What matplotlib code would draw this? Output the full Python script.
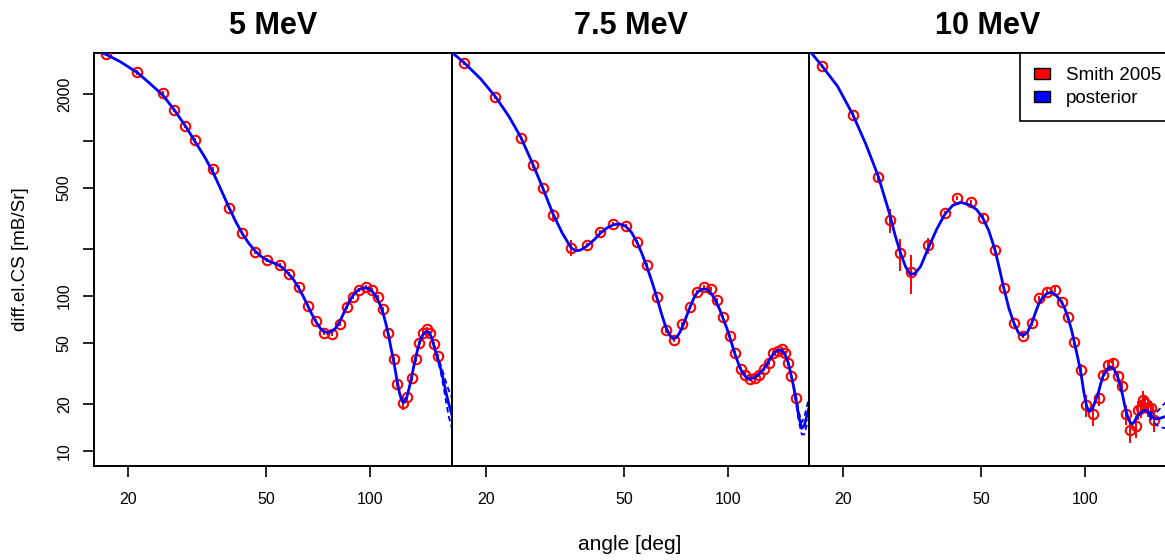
import matplotlib
matplotlib.use("Agg")
import matplotlib.pyplot as plt
from matplotlib.patches import Patch
from matplotlib.ticker import NullLocator

plt.rcParams['font.family'] = ['Liberation Sans', 'DejaVu Sans']

# ---------------- measured differential elastic cross sections (Smith 2005) ----------------
titles = ["5 MeV", "7.5 MeV", "10 MeV"]

ang_5 = [17.3, 21.3, 25.2, 27.2, 29.3, 31.3, 35.3, 39.1, 42.8, 46.6, 50.5, 54.8, 58.2, 62.2,
         66.2, 70.0, 73.5, 77.5, 81.7, 85.6, 89.1, 92.9, 97.2, 101.1, 105.2, 109.0, 112.9,
         117.3, 119.4, 124.3, 127.9, 131.9, 135.5, 138.5, 142.5, 145.8, 149.0, 153.4, 157.5]
cs_5 = [3640, 2770, 2030, 1580, 1250, 1010, 660, 371, 256, 193, 171, 158, 139, 114,
        86, 69, 58, 57, 66, 85, 98, 110, 114, 109, 99, 82, 58,
        39, 27, 20.3, 22.2, 29.4, 39, 50, 57.5, 61, 58, 49, 41]
err_5 = [110, 85, 60, 50, 40, 30, 20, 12, 8, 6, 5, 5, 4, 3.5,
         2.6, 2.1, 1.8, 1.7, 2, 2.6, 3, 3.3, 3.4, 3.3, 3, 2.5, 1.8,
         1.3, 1, 2.0, 0.9, 1.0, 1.3, 1.6, 1.8, 1.9, 1.8, 1.5, 1.3]

ang_75 = [17.3, 21.3, 25.2, 27.3, 29.2, 31.2, 35.2, 39.1, 42.7, 46.6, 50.6, 54.6, 58.2, 62.2,
          66.1, 70.0, 73.8, 77.7, 81.4, 85.4, 89.1, 92.8, 96.9, 101.5, 104.8, 109.0, 111.9,
          115.8, 119.7, 122.9, 127.0, 131.6, 134.6, 139.2, 142.9, 146.1, 149.3, 152.1, 157.2]
cs_75 = [3200, 1930, 1050, 697, 495, 332, 205, 213, 258, 293, 282, 223, 158, 99,
         60, 52, 66, 85, 106, 114, 111, 94, 73.5, 55, 42.7, 33.7, 30.9,
         29.1, 29.7, 31.1, 33.7, 37.1, 42.7, 44, 45.3, 42.7, 37.1, 30.5, 22]
err_75 = [100, 60, 35, 22, 16, 30, 25, 7, 8, 9, 9, 7, 5, 3.2,
          2, 1.7, 2, 2.7, 3.4, 3.6, 3.5, 3, 2.3, 1.8, 1.4, 1.1, 1,
          0.9, 0.9, 1, 1.1, 1.2, 1.4, 1.4, 1.4, 1.4, 1.2, 1, 0.9]

ang_10 = [17.4, 21.35, 25.3, 27.25, 29.3, 31.5, 35.3, 39.3, 42.8, 46.7, 50.7, 54.9, 58.3, 62.3,
          66.1, 70.2, 73.5, 77.5, 81.8, 85.9, 89.4, 93.2, 97.5, 100.8, 105.3, 109.4, 112.5,
          116.9, 120.3, 124.4, 128.1, 131.5, 135.3, 139.9, 142.7, 145.3, 147.5, 149.5, 152.2,
          155.3, 158.0]
cs_10 = [3050, 1480, 588, 309, 190, 143.5, 212, 343, 429, 402, 320, 199, 112.6, 66.7,
         55.4, 66.7, 96.7, 106.6, 109.8, 91.1, 72.9, 50.5, 33.3, 19.8, 17.3, 22, 30.9,
         35.9, 37.1, 30.5, 26.3, 17.3, 13.7, 14.4, 18.4, 18.9, 21.3, 20.4, 19,
         18.9, 15.85]
err_10 = [110, 55, 45, 55, 45, 40, 25, 12, 14, 13, 11, 7, 4, 2.5,
          2.2, 2.5, 3.5, 4, 4, 3.4, 2.8, 2.2, 3, 3.2, 2.8, 2.5, 1.8,
          2, 2, 1.8, 1.5, 2.5, 2.5, 2.3, 2.5, 2.5, 3, 2.5, 2.5,
          2, 2.5]

# ---------------- posterior mean curves ----------------
post_ang_5 = [15.9, 17.3, 19.0, 21.3, 23.0, 25.2, 27.2, 29.3, 31.3, 33.3, 35.3, 37.2, 39.1, 41.0,
              42.8, 44.7, 46.6, 48.5, 50.5, 52.5, 54.8, 56.5, 58.2, 60.2, 62.2, 64.2, 66.2,
              68.0, 70.0, 71.8, 73.5, 75.5, 77.5, 79.5, 81.7, 83.6, 85.6, 87.3, 89.1, 91.0,
              92.9, 95.0, 97.2, 99.1, 101.1, 103.1, 105.2, 107.1, 109.0, 111.0, 112.9, 115.0,
              117.3, 119.5, 121.5, 123.5, 124.7, 125.5, 127.9, 130.0, 131.9, 133.7, 135.5,
              137.5, 139.7, 142.0, 144.4, 146.5, 148.5, 150.5, 152.7, 155.0, 157.2, 160.0,
              163.0, 166.0, 169.0, 172.5]
post_cs_5 = [3900, 3620, 3250, 2760, 2380, 1980, 1590, 1250, 985, 790, 620, 480, 375, 300,
             252, 218, 195, 180, 170, 164, 157, 149, 139, 127, 113, 99, 86,
             76, 67.5, 62, 59, 58, 59, 62, 68, 76, 85, 93, 100, 106,
             110, 112.5, 113, 111.5, 108, 102.5, 95, 87, 78, 67, 57, 46,
             37, 29, 24, 21.2, 20.5, 20.6, 22.5, 26, 30, 35, 40,
             46, 51.5, 56, 58.5, 59, 57.5, 54, 48.5, 43, 39, 34,
             28.5, 23.5, 20, 17]

post_ang_75 = [15.9, 17.3, 19.3, 21.3, 23.3, 25.2, 27.3, 29.2, 31.2, 33.2, 35.2, 36.3, 37.5,
               39.1, 41.0, 42.7, 44.6, 46.6, 48.5, 50.6, 52.6, 54.6, 56.4, 58.2, 60.2, 62.2,
               64.1, 66.1, 68.0, 69.5, 71.0, 72.5, 73.8, 75.7, 77.7, 79.5, 81.4, 83.4, 85.4,
               87.2, 89.1, 90.9, 92.8, 94.8, 96.9, 99.2, 101.5, 103.2, 104.8, 107.0, 109.0,
               111.9, 114.0, 115.8, 119.7, 122.9, 127.0, 131.6, 134.6, 137.0, 139.2, 141.0,
               142.9, 146.1, 149.3, 152.1, 154.7, 157.2, 160.0, 163.3, 166.0, 169.0, 172.5]
post_cs_75 = [3750, 3200, 2520, 1930, 1440, 1060, 710, 495, 340, 255, 205, 196, 198,
              210, 230, 253, 274, 288, 292, 282, 258, 222, 188, 156, 125, 99,
              78, 63, 55.5, 53, 54, 58, 63, 73, 85, 96, 105, 110, 111,
              110, 105, 98, 90, 81, 71, 62, 53, 47, 42, 37, 33.3,
              30.5, 29.5, 29.2, 29.8, 31.3, 34, 38.5, 41.8, 43.5, 44.5, 44.8,
              44.5, 42, 37, 31, 26, 21.5, 16.8, 14, 14.5, 17, 20]

post_ang_10 = [15.9, 17.4, 19.3, 21.35, 23.3, 25.3, 27.3, 28.3, 29.3, 30.3, 31.3, 32.3, 33.5,
               35.3, 37.3, 39.3, 41.5, 43.9, 46.7, 48.7, 50.7, 52.7, 54.9, 56.6, 58.3, 60.3,
               62.3, 64.2, 66.1, 68.1, 70.2, 71.9, 73.5, 75.5, 77.5, 79.0, 80.7, 82.5, 84.2,
               85.9, 87.6, 89.4, 91.3, 93.2, 95.3, 97.5, 99.2, 100.8, 102.3, 103.8, 105.3,
               107.3, 109.4, 110.9, 112.5, 114.6, 116.9, 119.0, 121.5, 124.4, 126.0, 128.1,
               130.0, 131.5, 133.5, 135.3, 136.8, 138.5, 140.0, 142.5, 145.0, 147.5, 149.2,
               151.0, 153.0, 155.5, 158.0, 161.0, 164.0, 168.0, 172.5]
post_cs_10 = [3900, 3050, 2250, 1480, 950, 590, 335, 245, 190, 155, 138, 140, 155,
              205, 270, 335, 385, 402, 385, 360, 318, 265, 200, 150, 112, 83,
              67, 58, 55.5, 58, 67, 78, 89, 98, 103.5, 105, 105, 101, 96,
              90, 82, 72, 61, 50, 40, 31, 24, 20, 18, 18.2, 19,
              21.2, 24, 27, 30, 32.5, 34.3, 34.8, 33.5, 29.8, 27, 23.5,
              20, 18, 16, 15.2, 15, 15.3, 16, 17, 17.7, 18.2, 18.3,
              18.1, 17.5, 16.8, 16.3, 16.1, 16.2, 16.5, 16.8]

# ---------------- posterior uncertainty band beyond the data ----------------
band_ang_5 = [152.7, 157.2, 160.0, 163.0, 166.0, 169.0, 172.5]
band_hi_5 = [49, 40, 36, 31.5, 27.5, 24.5, 22]
band_lo_5 = [48, 38, 32.5, 26, 20.5, 16.5, 14]

band_ang_75 = [154.7, 157.2, 160.0, 163.3, 166.0, 169.0, 172.5]
band_hi_75 = [26.5, 22.5, 18, 15.3, 16.5, 19.5, 23.5]
band_lo_75 = [25.5, 20.5, 15.6, 12.8, 12.8, 14.8, 17]

band_ang_10 = [153.0, 155.5, 158.0, 161.0, 164.0, 168.0, 172.5]
band_hi_10 = [18, 17.6, 17.3, 17.8, 18.6, 19.8, 21]
band_lo_10 = [17, 16.0, 15.3, 14.7, 14.3, 14.1, 14]

x_ticks = [20, 50, 100]
y_ticks = [10, 20, 50, 100, 200, 500, 1000, 2000]
y_tick_labels = ["10", "20", "50", "100", "", "500", "", "2000"]

panels = [
    (ang_5, cs_5, err_5, post_ang_5, post_cs_5, band_ang_5, band_hi_5, band_lo_5),
    (ang_75, cs_75, err_75, post_ang_75, post_cs_75, band_ang_75, band_hi_75, band_lo_75),
    (ang_10, cs_10, err_10, post_ang_10, post_cs_10, band_ang_10, band_hi_10, band_lo_10),
]

# ---------------- layout ----------------
W, H = 1165, 560
fig = plt.figure(figsize=(W / 100, H / 100), dpi=100)
lefts = [94, 452, 809]
pw = 358
top, bottom = 53, 466

axes = []
for i, (title, data) in enumerate(zip(titles, panels)):
    ang, cs, err, pa, pc, ba, bh, bl = data
    ax = fig.add_axes([lefts[i] / W, (H - bottom) / H, pw / W, (bottom - top) / H])
    axes.append(ax)
    ax.set_xscale('log')
    ax.set_yscale('log')
    ax.set_xlim(15.95, 172.5)
    ax.set_ylim(8.0, 3700)

    ax.errorbar(ang, cs, yerr=err, fmt='none', ecolor='#ff0000', elinewidth=1.4,
                capsize=0, zorder=2)
    ax.plot(ang, cs, linestyle='none', marker='o', markerfacecolor='none',
            markeredgecolor='#ff0000', markersize=6.8, markeredgewidth=1.5, zorder=3)
    ax.plot(ba, bh, color='#0000ff', lw=1.3, ls=(0, (3, 2)), zorder=4)
    ax.plot(ba, bl, color='#0000ff', lw=1.3, ls=(0, (3, 2)), zorder=4)
    ax.plot(pa, pc, color='#0000ff', lw=2.0, zorder=5)

    ax.set_title(title, fontsize=22, fontweight='bold', pad=14)

    ax.set_xticks(x_ticks)
    ax.set_xticklabels([str(t) for t in x_ticks])
    ax.xaxis.set_minor_locator(NullLocator())
    ax.tick_params(axis='x', direction='out', length=8, width=1.2, labelsize=11.5, pad=10.5)

    if i == 0:
        ax.set_yticks(y_ticks)
        ax.set_yticklabels(y_tick_labels, rotation=90, va='center')
        ax.yaxis.set_minor_locator(NullLocator())
        ax.tick_params(axis='y', direction='out', length=8, width=1.2, labelsize=11.5, pad=8)
    else:
        ax.set_yticks([])
        ax.yaxis.set_minor_locator(NullLocator())

    for s in ax.spines.values():
        s.set_linewidth(1.4)
        s.set_color('black')

legend_handles = [Patch(facecolor='#ff0000', edgecolor='black', label='Smith 2005'),
                  Patch(facecolor='#0000ff', edgecolor='black', label='posterior')]
leg = axes[2].legend(handles=legend_handles, loc='upper left', bbox_to_anchor=(0.589, 1.0),
                     fontsize=13.5, frameon=True, fancybox=False, borderaxespad=0,
                     handlelength=0.85, handleheight=0.55, handletextpad=0.85,
                     borderpad=0.75, labelspacing=0.32, framealpha=1)
leg.get_frame().set_edgecolor('black')
leg.get_frame().set_linewidth(1.2)
leg.set_zorder(10)

fig.text(630 / W, 1 - 545 / H, "angle [deg]", ha='center', va='center', fontsize=15)
fig.text(21 / W, 1 - 259.5 / H, "diff.el.CS [mB/Sr]", ha='center', va='center',
         rotation=90, fontsize=13.5)

fig.savefig("out.png", dpi=100)
